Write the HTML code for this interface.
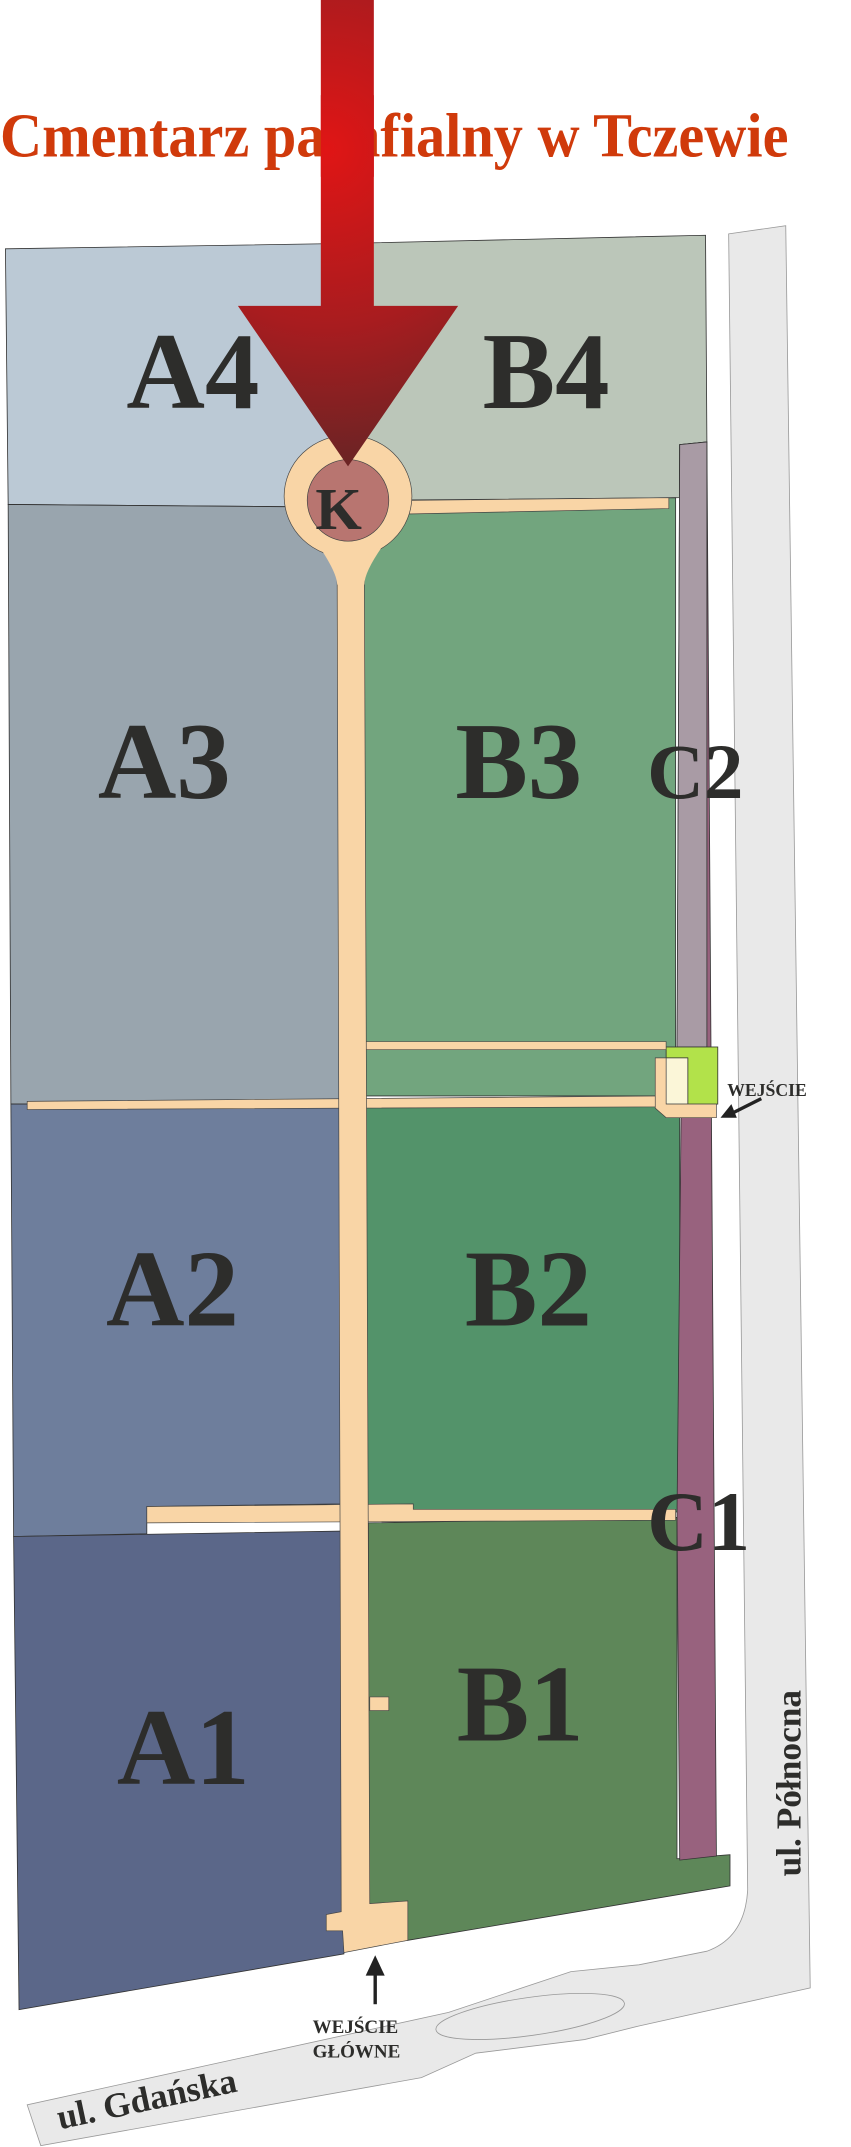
<!DOCTYPE html>
<html><head><meta charset="utf-8"><style>html,body{margin:0;padding:0;background:#fff}svg{display:block}</style></head>
<body>
<svg width="851" height="2147" viewBox="0 0 626 1579" preserveAspectRatio="none" xmlns="http://www.w3.org/2000/svg" font-family="Liberation Serif, serif" font-weight="bold">
<defs>
<radialGradient id="rg" cx="240" cy="110" r="260" gradientUnits="userSpaceOnUse">
<stop offset="0" stop-color="#e01515"/><stop offset="0.5" stop-color="#a81c1f"/><stop offset="1" stop-color="#5a2626"/></radialGradient>
</defs>
<path d="M536,172 L578,166 L596,1462 L470,1490 L430,1500 L350,1510 L310,1528 L30,1578 L20,1548 L330,1480 L420,1450 L470,1445 L520,1435 Q548,1425 550,1390 Z" fill="#e9e9e9" stroke="#999" stroke-width="0.6"/>
<ellipse cx="390" cy="1483" rx="70" ry="14" transform="rotate(-8 390 1483)" fill="#e9e9e9" stroke="#999" stroke-width="0.6"/>
<g stroke="#333" stroke-width="0.6">
<polygon points="4,183 256,179 256,373 6,371" fill="#bbc9d5"/>
<polygon points="256,179 519,173 520,325 500,327 500,366 256,373" fill="#bbc6b9"/>
<polygon points="6,371 252,373 252,812 8,812" fill="#99a5ae"/>
<polygon points="266,368 497,366 497,806 266,806" fill="#72a57e"/>
<polygon points="8,812 252,812 252,1106 108,1108 108,1128 10,1130" fill="#6e7e9c"/>
<polygon points="266,812 500,812 500,1112 266,1112" fill="#53936a"/>
<polygon points="10,1130 253,1126 253,1437 14,1478" fill="#5b6789"/>
<polygon points="271,1120 498,1116 498,1367 537,1364 537,1387 300,1427 271,1430" fill="#5e8759"/>
<polygon points="500,327 520,325 527,1365 500,1368 498,1115 501,822 498,812" fill="#98627e"/>
<polygon points="500,327 520,325 520,770 498,770" fill="#a99ba5"/>
<rect x="490" y="770" width="38" height="42" fill="#b2e24a"/>
<rect x="490" y="778" width="16" height="34" fill="#fbf6d8"/>
</g>
<g fill="#f9d5a6" stroke="#444" stroke-width="0.5">
<polygon points="20,810 490,806 490,814 20,816"/>
<polygon points="266,766 490,766 490,772 266,772"/>
<polygon points="482,778 490,778 490,812 527,812 527,822 490,822 482,815"/>
<polygon points="108,1108 304,1106 304,1110 497,1110 497,1118 108,1120"/>
<polygon points="300,368 492,366 492,374 300,378"/>
<polygon points="248,420 268,420 272,1400 300,1398 300,1427 253,1436 252,1420 240,1420 240,1408 251,1406"/>
<polygon points="272,1248 286,1248 286,1258 272,1258"/>
<ellipse cx="256" cy="365" rx="47" ry="45"/>
<path d="M230,395 Q248,420 248,430 L268,430 Q268,420 284,398 Z" stroke="none"/>
</g>
<circle cx="256" cy="368" r="30" fill="#b87570" stroke="#444" stroke-width="0.5"/>
<g fill="#2d2d2b" font-size="80">
<text x="93" y="300">A4</text>
<text x="355" y="300">B4</text>
<text x="72" y="587">A3</text>
<text x="335" y="587">B3</text>
<text x="78" y="975">A2</text>
<text x="342" y="975">B2</text>
<text x="86" y="1312">A1</text>
<text x="336" y="1280">B1</text>
<text x="476" y="1140" font-size="62">C1</text>
<text x="476" y="587" font-size="58">C2</text>
<text x="232" y="389" font-size="44">K</text>
</g>
<polygon points="236,0 275,0 275,225 337,225 256,343 175,225 236,225" fill="url(#rg)"/>
<text x="0" y="115" font-size="46" fill="#d03a0b" textLength="580" lengthAdjust="spacingAndGlyphs">Cmentarz parafialny w Tczewie</text>
<rect x="236" y="70" width="39" height="60" fill="url(#rg)"/>
<g fill="#2d2d2b">
<text x="535" y="806" font-size="13">WEJŚCIE</text>
<line x1="560" y1="808" x2="536" y2="820" stroke="#222" stroke-width="2.5"/>
<polygon points="530,822 538,812 542,822" fill="#222"/>
<line x1="276" y1="1474" x2="276" y2="1450" stroke="#222" stroke-width="2.5"/>
<polygon points="276,1438 269,1453 283,1453" fill="#222"/>
<text x="230" y="1495" font-size="14">WEJŚCIE</text>
<text x="230" y="1513" font-size="14">GŁÓWNE</text>
<text x="0" y="0" font-size="26" transform="translate(44 1566) rotate(-12)">ul. Gdańska</text>
<text x="0" y="0" font-size="26" transform="translate(589 1380) rotate(-90)">ul. Północna</text>
</g>
</svg>
</body></html>
